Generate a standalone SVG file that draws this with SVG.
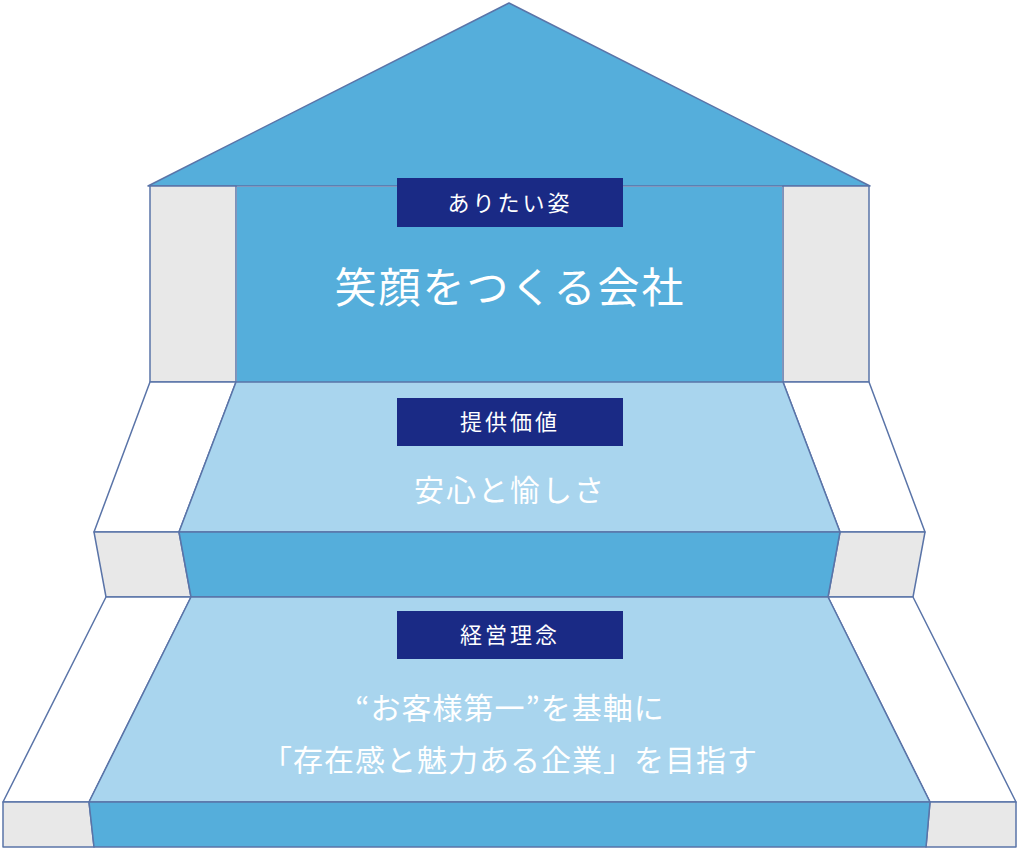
<svg xmlns="http://www.w3.org/2000/svg" width="1019" height="849" viewBox="0 0 1019 849">
<style>
.s{stroke:#5a74a8;stroke-width:1.5;stroke-linejoin:round}
.b{fill:#55aedb}.l{fill:#a9d5ee}.g{fill:#e8e8e8}.w{fill:#fff}
.tag{fill:#1a2a85}
text{font-family:"Noto Sans CJK JP","Noto Sans",sans-serif;fill:#fff;text-anchor:middle}
.t1{font-size:22px;letter-spacing:3px}
</style>
<g id="roof">
<polygon class="s b" points="509,3 870,186 148,186"/>
<rect class="s g" x="150" y="186" width="86" height="196"/>
<rect class="s g" x="783" y="186" width="86" height="196"/>
<rect class="b" x="237" y="187" width="545" height="195"/>
</g>
<g id="middle">
<polygon class="s w" points="150,382 236,382 179,532 94,532"/>
<polygon class="s w" points="783,382 869,382 925,532 840,532"/>
<polygon class="s l" points="236,382 783,382 840,532 179,532"/>
<polygon class="s g" points="94,532 179,532 191,597 106,597"/>
<polygon class="s g" points="840,532 925,532 913,597 828,597"/>
<polygon class="s b" points="179,532 840,532 828,597 191,597"/>
</g>
<g id="bottom">
<polygon class="s w" points="106,597 191,597 89,802 3,802"/>
<polygon class="s w" points="828,597 913,597 1016,802 930,802"/>
<polygon class="s l" points="191,597 828,597 930,802 89,802"/>
<polygon class="s g" points="3,802 89,802 94,847 3,847"/>
<polygon class="s g" points="930,802 1016,802 1016,847 926,847"/>
<polygon class="s b" points="89,802 930,802 926,847 94,847"/>
</g>
<g id="label1">
<rect class="tag" x="397" y="178" width="226" height="49"/>
<text class="t1" x="510" y="211">ありたい姿</text>
<text x="510" y="303" font-size="42" letter-spacing="2">笑顔をつくる会社</text>
</g>
<g id="label2">
<rect class="tag" x="397" y="398" width="226" height="48"/>
<text class="t1" x="510" y="430">提供価値</text>
<text x="510" y="501" font-size="30" letter-spacing="2">安心と愉しさ</text>
</g>
<g id="label3">
<rect class="tag" x="397" y="611" width="226" height="48"/>
<text class="t1" x="510" y="643">経営理念</text>
<text x="510" y="719" font-size="30" letter-spacing="1">“お客様第一”を基軸に</text>
<text x="510" y="771" font-size="30" letter-spacing="1">「存在感と魅力ある企業」を目指す</text>
</g>
</svg>
